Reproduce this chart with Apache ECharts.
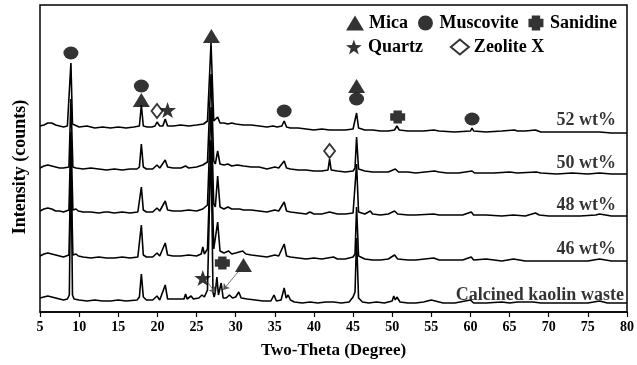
<!DOCTYPE html>
<html>
<head>
<meta charset="utf-8">
<script src="https://cdn.jsdelivr.net/npm/echarts@6/dist/echarts.min.js"></script>
<style>
  html, body { margin: 0; padding: 0; background: #fff; }
  #chart { width: 637px; height: 365px; }
</style>
</head>
<body>
<div id="chart"></div>
<script>
//  Data (2-theta, intensity above each pattern's own baseline)

var sampleNames = ['52 wt%', '50 wt%', '48 wt%', '46 wt%', 'Calcined kaolin waste'];
var offsets = [185, 143, 100, 55, 12];

var p52 = [[5,1],[5.5,2],[6,4],[6.5,4],[7,2],[7.5,1],[8,0],[8.5,1],[8.75,3],[8.95,64],[9.15,3],[9.4,1],[10,0],[11,1],[12,-1],[13,0],[14,-1],[15,0],[16,-1],[17,0],[17.7,1],[17.95,22],[18.2,1],[18.7,0],[19.3,0],[19.7,1],[19.95,5],[20.3,1],[20.7,1],[21.0,8],[21.3,1],[22,1],[23,2],[24,1],[25,2],[25.9,3],[26.4,6],[26.85,84],[27.2,6],[27.4,5],[27.7,10],[28.0,4],[28.5,4],[29,3],[29.5,4],[30,3],[31,2],[32,2],[33,1],[34,0],[34.8,1],[35.0,3],[35.3,0],[35.9,1],[36.2,6],[36.5,0],[37,-1],[38,-1],[39,-2],[40,-3],[41,-2],[42,-3],[43,-3],[44,-3],[45,-2],[45.25,0],[45.45,14],[45.7,-1],[46.5,-3],[47.5,-3],[48.5,-4],[49.5,-4],[50.3,-3],[50.6,1],[50.9,-3],[52,-4],[54,-4],[55.3,-3],[56,-4],[58,-5],[60,-4],[60.2,-1],[60.4,-4],[62,-5],[64,-4],[65.6,-3],[66,-4],[67,-4],[68.3,-3],[69,-5],[71,-5],[73,-5],[75,-5],[76.5,-5],[78,-6],[80,-6]];

var p50 = [[5,1],[5.5,3],[6,4],[6.5,3],[7,2],[7.5,1],[8,1],[8.7,2],[8.95,70],[9.2,2],[9.6,1],[10.5,0],[11.5,1],[12.5,0],[13.5,-1],[14.5,0],[15.5,-1],[16.5,0],[17.4,0],[17.7,2],[17.95,25],[18.2,2],[18.6,0],[19.4,0],[19.95,4],[20.3,1],[21.0,9],[21.3,2],[22,1],[23,1],[23.6,3],[24,1],[25,2],[25.8,4],[26.4,7],[26.85,95],[27.2,8],[27.4,5],[27.7,18],[28.0,5],[28.5,4],[29,5],[29.5,3],[30.2,4],[31,3],[32,2],[33,2],[34,0],[35,2],[35.5,1],[36.2,8],[36.5,1],[37,0],[38,-1],[39,-1],[40,-2],[41,-2],[41.8,-1],[42.0,10],[42.2,-1],[43,-2],[44,-3],[45,-2],[45.25,1],[45.45,32],[45.7,0],[46.5,-2],[47.5,-3],[48.5,-3],[49.5,-3],[50.4,0],[50.8,-3],[52,-3],[53,-4],[55.4,-2],[56,-3],[57,-4],[58.5,-4],[60.2,-2],[60.5,-4],[62,-4],[63,-4],[65,-3],[66,-4],[68.4,-3],[69,-4],[71,-5],[73,-4],[75,-5],[76.5,-4],[78,-5],[80,-5]];

var p48 = [[5,1],[5.5,3],[6,4],[6.5,3],[7,1],[7.5,1],[8,0],[8.7,2],[8.95,80],[9.2,2],[9.6,3],[9.9,1],[10.5,0],[11.5,0],[12.5,-1],[13.3,0],[13.5,2],[13.7,0],[14.5,-1],[15.5,0],[16.5,-1],[17.5,0],[17.7,2],[17.95,25],[18.2,2],[18.6,0],[19.4,0],[19.95,4],[20.3,1],[21.0,11],[21.3,2],[22,1],[23,1],[24,2],[25,1],[25.8,3],[26.4,7],[26.85,105],[27.2,8],[27.4,5],[27.7,36],[28.0,5],[28.5,3],[29,5],[29.5,3],[30.5,3],[31,2],[32,2],[33,1],[34,0],[35,2],[35.5,1],[36.2,10],[36.5,1],[37,0],[38,-1],[39,-2],[39.5,0],[40,-2],[41,-2],[42,0],[42.5,-1],[43,-2],[44,-2],[45,-1],[45.25,1],[45.45,48],[45.7,0],[46.5,-2],[47.2,1],[47.5,-2],[48.5,-3],[49.5,-2],[50.3,1],[50.7,-2],[52,-3],[53,-3],[55.3,-2],[56,-3],[57.5,-3],[59,-3],[60.1,0],[60.4,-3],[62,-3],[64,-4],[65.5,-3],[67,-4],[68.3,-1],[68.8,-3],[70,-4],[72,-4],[74,-4],[76,-3],[76.5,-2],[78,-4],[80,-4]];

var p46 = [[5,1],[5.5,3],[6,4],[6.5,3],[7,2],[7.5,1],[8,0],[8.7,2],[8.95,90],[9.2,2],[9.6,3],[9.9,1],[10.5,0],[11.5,-1],[12.5,0],[13.5,-1],[14.5,-1],[15.5,0],[16.5,-1],[17.5,0],[17.7,2],[17.95,32],[18.2,2],[18.6,0],[19.4,0],[19.95,4],[20.3,1],[21.0,14],[21.3,2],[22,1],[23,1],[24,2],[25,1],[25.6,3],[25.8,10],[26.0,3],[26.4,8],[26.85,115],[27.2,8],[27.4,6],[27.7,35],[28.0,6],[28.5,4],[29.1,6],[29.5,3],[30,4],[30.9,6],[31.3,3],[32,2],[33,1],[34,0],[35,2],[35.5,1],[36.2,13],[36.5,1],[37,0],[38,-1],[39,-2],[40,-1],[41,-2],[42.5,0],[43,-2],[44,-2],[45,0],[45.25,3],[45.45,50],[45.7,1],[46.5,-2],[47.5,-3],[48.5,-3],[49.5,-2],[50.3,2],[50.7,-2],[52,-3],[53,-3],[55.3,-1],[56,-3],[57.5,-3],[59,-3],[60.1,0],[60.4,-3],[62,-2],[64,-4],[65.5,-2],[67,-4],[69,-4],[71,-4],[73,-4],[75,-4],[76.5,-2],[78,-4],[80,-4]];

var pKaolin = [[5,2],[5.5,3],[6,4],[6.5,3],[7,2],[7.5,1],[8,0],[8.5,1],[8.75,5],[8.95,150],[9.15,5],[9.35,1],[9.6,2],[10,0],[11,-1],[12,0],[13,-1],[14,-1],[15,0],[16,-1],[17.4,0],[17.7,3],[17.95,26],[18.2,3],[18.6,0],[19.4,0],[19.95,4],[20.3,0],[21.0,15],[21.3,1],[22,1],[23,1],[23.4,1],[23.6,6],[23.8,1],[24.3,4],[24.6,1],[25.3,2],[25.7,5],[26.0,3],[26.4,10],[26.85,160],[27.1,8],[27.25,3],[27.4,8],[27.6,23],[27.8,5],[28.15,17],[28.4,2],[28.8,2],[29.2,5],[29.6,2],[30,3],[30.4,8],[30.7,2],[31.5,1],[32.5,0],[33.5,-1],[34.5,-1],[34.9,5],[35.2,-1],[35.8,0],[36.2,12],[36.45,2],[36.7,5],[37.0,0],[37.5,-2],[38.5,-3],[39.5,-2],[40.5,-3],[41.5,-2],[42.5,-2],[43.5,-3],[44.5,-2],[45,3],[45.25,8],[45.45,62],[45.7,2],[46.2,-2],[47,-3],[48,-2],[49,-3],[50,-1],[50.2,4],[50.4,0],[50.6,3],[51,-2],[52,-3],[53,-3],[54,-2],[55,0],[55.5,-1],[56.5,-3],[58,-3],[60,0],[60.4,-3],[62,-3],[64,-2],[65,-3],[66,-2],[68,-2],[69,-3],[71,-3],[73,-3],[75,-3],[76.5,-1],[77.5,-3],[80,-3]];

var patterns = [p52, p50, p48, p46, pKaolin];

// phase markers: [2-theta, height on the plot]
var mica = [[17.95, 212], [26.9, 276], [45.45, 226], [31.0, 47]];
var muscovite = [[8.95, 259], [17.95, 226], [36.2, 201], [45.45, 213], [60.2, 193]];
var sanidine = [[50.7, 195], [28.3, 49]];
var quartz = [[21.3, 202], [25.8, 34]];
var zeoliteX = [[19.95, 201], [42.0, 161]];

var xTicks = [5, 80, 5];  // min, max, step

//  Chart

var fontFam = '"Times New Roman", "Liberation Serif", serif';
var starPath = 'path://M10,0 L12.35,6.76 L19.51,6.91 L13.8,11.24 L15.88,18.09 L10,14 L4.12,18.09 L6.2,11.24 L0.49,6.91 L7.65,6.76 Z';
var crossPath = 'path://M2.2,0 H7.8 V2.2 H10 V7.8 H7.8 V10 H2.2 V7.8 H0 V2.2 H2.2 Z';

var labelPos = [[78.6, 192], [78.6, 149], [78.6, 107], [78.6, 63], [79.6, 17]];

var myChart = echarts.init(document.getElementById('chart'), null, {renderer: 'canvas'});

var series = [];
patterns.forEach(function(pat, i) {
  series.push({
    name: sampleNames[i],
    type: 'line',
    data: pat.map(function(p) { return [p[0], p[1] + offsets[i]]; }),
    showSymbol: false,
    symbol: 'none',
    lineStyle: {color: '#000', width: 1.6},
    z: 2
  });
});

// arrows near the calcined pattern
series[4].markLine = {
  silent: true,
  symbol: ['none', 'arrow'],
  symbolSize: 6,
  label: {show: false},
  lineStyle: {color: '#555', width: 0.8, type: 'solid'},
  data: [
    [{coord: [26.4, 30]}, {coord: [27.4, 19]}],
    [{coord: [30.5, 42]}, {coord: [28.4, 22]}]
  ]
};

function phase(name, data, symbol, size, style) {
  return {
    name: name,
    type: 'scatter',
    data: data,
    symbol: symbol,
    symbolSize: size,
    itemStyle: style,
    z: 5
  };
}

series.push(phase('Mica', mica, 'triangle', [17, 14], {color: '#000'}));
series.push(phase('Muscovite', muscovite, 'circle', [15, 13], {color: '#000'}));
series.push(phase('Sanidine', sanidine, crossPath, [15, 13], {color: '#000'}));
series.push(phase('Quartz', quartz, starPath, [17, 16], {color: '#000'}));
series.push(phase('Zeolite X', zeoliteX, 'diamond', [11, 14], {color: '#fff', borderColor: '#000', borderWidth: 1.8}));

series.push({
  name: 'labels',
  type: 'scatter',
  symbolSize: 0,
  silent: true,
  data: labelPos.map(function(p, i) { return [p[0], p[1], sampleNames[i]]; }),
  label: {
    show: true,
    position: 'left',
    distance: 0,
    formatter: function(params) { return params.data[2]; },
    color: '#000',
    fontFamily: fontFam,
    fontWeight: 'bold',
    fontSize: 18
  }
});

var legendText = {color: '#000', fontFamily: fontFam, fontWeight: 'bold', fontSize: 18};

var option = {
  animation: false,
  backgroundColor: '#fff',
  grid: {
    left: 40, right: 9, top: 5, bottom: 53,
    show: true, borderColor: '#000', borderWidth: 1.5
  },
  legend: [{
    data: ['Mica', 'Muscovite', 'Sanidine'],
    left: 341, top: 9,
    itemWidth: 18, itemHeight: 15, itemGap: 10,
    textStyle: legendText
  }, {
    data: ['Quartz', 'Zeolite X'],
    left: 341, top: 33,
    itemWidth: 18, itemHeight: 15, itemGap: 27,
    textStyle: legendText
  }],
  xAxis: {
    type: 'value',
    min: xTicks[0], max: xTicks[1], interval: xTicks[2],
    name: 'Two-Theta (Degree)',
    nameLocation: 'middle',
    nameGap: 30,
    nameTextStyle: {color: '#000', fontFamily: fontFam, fontWeight: 'bold', fontSize: 17},
    axisLine: {lineStyle: {color: '#000', width: 1.5}},
    axisTick: {show: true, inside: false, length: 5, lineStyle: {color: '#000', width: 1.2}},
    axisLabel: {color: '#000', fontFamily: fontFam, fontWeight: 'bold', fontSize: 14, margin: 8},
    splitLine: {show: false}
  },
  yAxis: {
    type: 'value',
    min: 0, max: 307,
    show: false
  },
  graphic: [{
    type: 'text',
    x: 20, y: 167,
    rotation: Math.PI / 2,
    style: {
      text: 'Intensity (counts)',
      fill: '#000',
      font: 'bold 18px ' + fontFam,
      align: 'center',
      verticalAlign: 'middle'
    }
  }],
  series: series
};

myChart.setOption(option);
</script>
</body>
</html>
